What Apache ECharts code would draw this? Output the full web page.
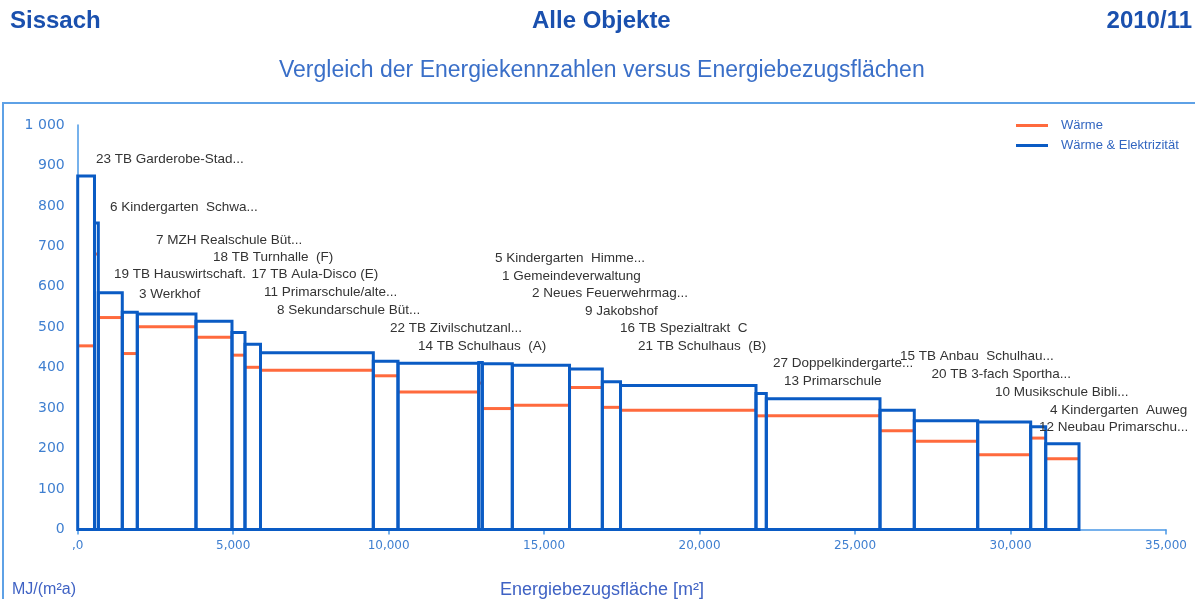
<!DOCTYPE html>
<html>
<head>
<meta charset="utf-8">
<script src="https://cdn.jsdelivr.net/npm/echarts@6/dist/echarts.min.js"></script>
<style>
  html, body { margin: 0; padding: 0; background: #fff; }
  #main { width: 1195px; height: 599px; }
</style>
</head>
<body>
<div id="main"></div>
<script>
// Gebäude in der Reihenfolge der Balken (links nach rechts)
var names = [
  '23 TB Garderobe-Stad...', '6 Kindergarten  Schwa...', '7 MZH Realschule Büt...',
  '18 TB Turnhalle  (F)', '19 TB Hauswirtschaft.', '17 TB Aula-Disco (E)',
  '3 Werkhof', '11 Primarschule/alte...', '8 Sekundarschule Büt...',
  '22 TB Zivilschutzanl...', '14 TB Schulhaus  (A)', '5 Kindergarten  Himme...',
  '1 Gemeindeverwaltung', '2 Neues Feuerwehrmag...', '9 Jakobshof',
  '16 TB Spezialtrakt  C', '21 TB Schulhaus  (B)', '27 Doppelkindergarte...',
  '13 Primarschule', '15 TB Anbau  Schulhau...', '20 TB 3-fach Sportha...',
  '10 Musikschule Bibli...', '4 Kindergarten  Auweg', '12 Neubau Primarschu...'
];
// Energiebezugsfläche je Gebäude [m²]
var areas = [540, 123, 771, 483, 1887, 1158, 418, 499, 3628, 794, 2596, 115,
             965, 1840, 1055, 585, 4357, 332, 3656, 1103, 2039, 1704, 483, 1071];
// Energiekennzahl Wärme & Elektrizität [MJ/(m²a)]
var total = [874, 758, 585, 537, 533, 515, 487, 458, 437, 416, 411, 413,
             410, 406, 397, 365, 356, 336, 323, 295, 269, 266, 254, 212];
// Energiekennzahl Wärme [MJ/(m²a)]
var heat = [454, 681, 524, 435, 501, 475, 431, 401, 394, 380, 340, 362,
            299, 307, 351, 302, 295, 281, 281, 244, 218, 185, 226, 175];
// Beschriftungen (Fläche, Kennzahl) wie vom Originalprogramm verteilt
var labelArea = [589, 1039, 2518, 4351, 1167, 5590, 1971, 5991, 6410, 10044, 10944, 13420,
                 13646, 14611, 16315, 17441, 18020, 22361, 22715, 26446, 27458, 29500, 31269, 30916];
var labelValue = [916, 797, 714, 674, 632, 632, 581, 587, 543, 498, 452, 670,
                  627, 583, 540, 498, 452, 410, 367, 429, 384, 340, 294, 252];
var yTicks = {min: 0, max: 1000, step: 100};
var xTicks = {min: 0, max: 35000, step: 5000};

var blue = '#0a5bc4';
var orange = '#ff6a3d';
var axisBlue = '#3f7fd0';
var lineBlue = '#4a98e6';

var myChart = echarts.init(document.getElementById('main'));

// Balken: kumulierte Fläche als x-Bereich
var boxData = [];
var start = 0;
for (var i = 0; i < areas.length; i++) {
  boxData.push([start, start + areas[i], total[i], heat[i]]);
  start += areas[i];
}
var labelData = [];
for (var j = 0; j < names.length; j++) {
  labelData.push([labelArea[j], labelValue[j]]);
}

function renderHeat(params, api) {
  var a = api.coord([api.value(0), api.value(3)]);
  var b = api.coord([api.value(1), api.value(3)]);
  return {
    type: 'line',
    shape: {x1: a[0], y1: a[1], x2: b[0], y2: b[1]},
    style: {stroke: orange, lineWidth: 3}
  };
}

function renderBox(params, api) {
  var p0 = api.coord([api.value(0), api.value(2)]);
  var p1 = api.coord([api.value(1), 0]);
  return {
    type: 'rect',
    shape: {x: p0[0], y: p0[1], width: p1[0] - p0[0], height: p1[1] - p0[1]},
    style: {fill: 'none', stroke: blue, lineWidth: 3}
  };
}

function renderLabel(params, api) {
  var p = api.coord([api.value(0), api.value(1)]);
  return {
    type: 'text',
    x: p[0],
    y: p[1],
    style: {
      text: names[params.dataIndex],
      fill: '#333333',
      fontSize: 13.5,
      fontFamily: 'Liberation Sans',
      align: 'left',
      verticalAlign: 'middle'
    }
  };
}

var titleFont = {fontSize: 24, fontWeight: 'bold', color: '#1a50ae', fontFamily: 'Liberation Sans'};

option = {
  animation: false,
  title: [
    {text: 'Sissach', left: 10, top: 9, padding: 0, textStyle: titleFont},
    {text: 'Alle Objekte', left: 532, top: 9, padding: 0, textStyle: titleFont},
    {text: '2010/11', right: 3, top: 9, padding: 0, textStyle: titleFont},
    {text: 'Vergleich der Energiekennzahlen versus Energiebezugsflächen', left: 279, top: 59, padding: 0,
     textStyle: {fontSize: 23, fontWeight: 'normal', color: '#3a6fc8', fontFamily: 'Liberation Sans'}}
  ],
  legend: {
    orient: 'vertical',
    left: 1011,
    top: 114,
    itemWidth: 32,
    itemHeight: 3,
    itemGap: 7,
    data: [{name: 'Wärme', icon: 'rect'}, {name: 'Wärme & Elektrizität', icon: 'rect'}],
    textStyle: {color: '#3266c0', fontSize: 13, fontFamily: 'Liberation Sans', padding: [0, 0, 0, 8]}
  },
  graphic: [
    {type: 'rect', shape: {x: 3, y: 103, width: 1200, height: 520},
     style: {fill: 'none', stroke: '#5ea1e6', lineWidth: 2}, silent: true},
    {type: 'text', left: 12, top: 582,
     style: {text: 'MJ/(m²a)', fill: '#3f62c4', fontSize: 16, fontFamily: 'Liberation Sans'}},
    {type: 'text', x: 602, y: 590,
     style: {text: 'Energiebezugsfläche [m²]', fill: '#3f62c4', fontSize: 18, fontFamily: 'Liberation Sans',
             align: 'center', verticalAlign: 'middle'}}
  ],
  grid: {left: 77.7, right: 29, top: 125, bottom: 69.5},
  xAxis: {
    type: 'value',
    min: xTicks.min, max: xTicks.max, interval: xTicks.step,
    axisLine: {lineStyle: {color: lineBlue, width: 1.5}},
    axisTick: {show: true, length: 5, lineStyle: {color: lineBlue, width: 1.5}},
    splitLine: {show: false},
    axisLabel: {
      color: axisBlue, fontSize: 12, fontFamily: 'DejaVu Sans', margin: 10,
      formatter: function (v) {
        if (v === 0) return ',0';
        return String(v).replace(/\B(?=(\d{3})+(?!\d))/g, ',');
      }
    }
  },
  yAxis: {
    type: 'value',
    min: yTicks.min, max: yTicks.max, interval: yTicks.step,
    axisLine: {show: true, lineStyle: {color: lineBlue, width: 1.5}},
    axisTick: {show: false},
    splitLine: {show: false},
    axisLabel: {
      color: axisBlue, fontSize: 14, fontFamily: 'DejaVu Sans', margin: 13,
      formatter: function (v) {
        return v >= 1000 ? String(v).replace(/\B(?=(\d{3})+(?!\d))/g, ' ') : String(v);
      }
    }
  },
  series: [
    {
      name: 'Wärme',
      type: 'custom',
      renderItem: renderHeat,
      itemStyle: {color: orange},
      encode: {x: [0, 1], y: 3},
      data: boxData
    },
    {
      name: 'Wärme & Elektrizität',
      type: 'custom',
      renderItem: renderBox,
      itemStyle: {color: blue},
      encode: {x: [0, 1], y: 2},
      data: boxData
    },
    {
      name: 'labels',
      type: 'custom',
      silent: true,
      renderItem: renderLabel,
      encode: {x: 0, y: 1},
      data: labelData
    }
  ]
};

myChart.setOption(option);
</script>
</body>
</html>
